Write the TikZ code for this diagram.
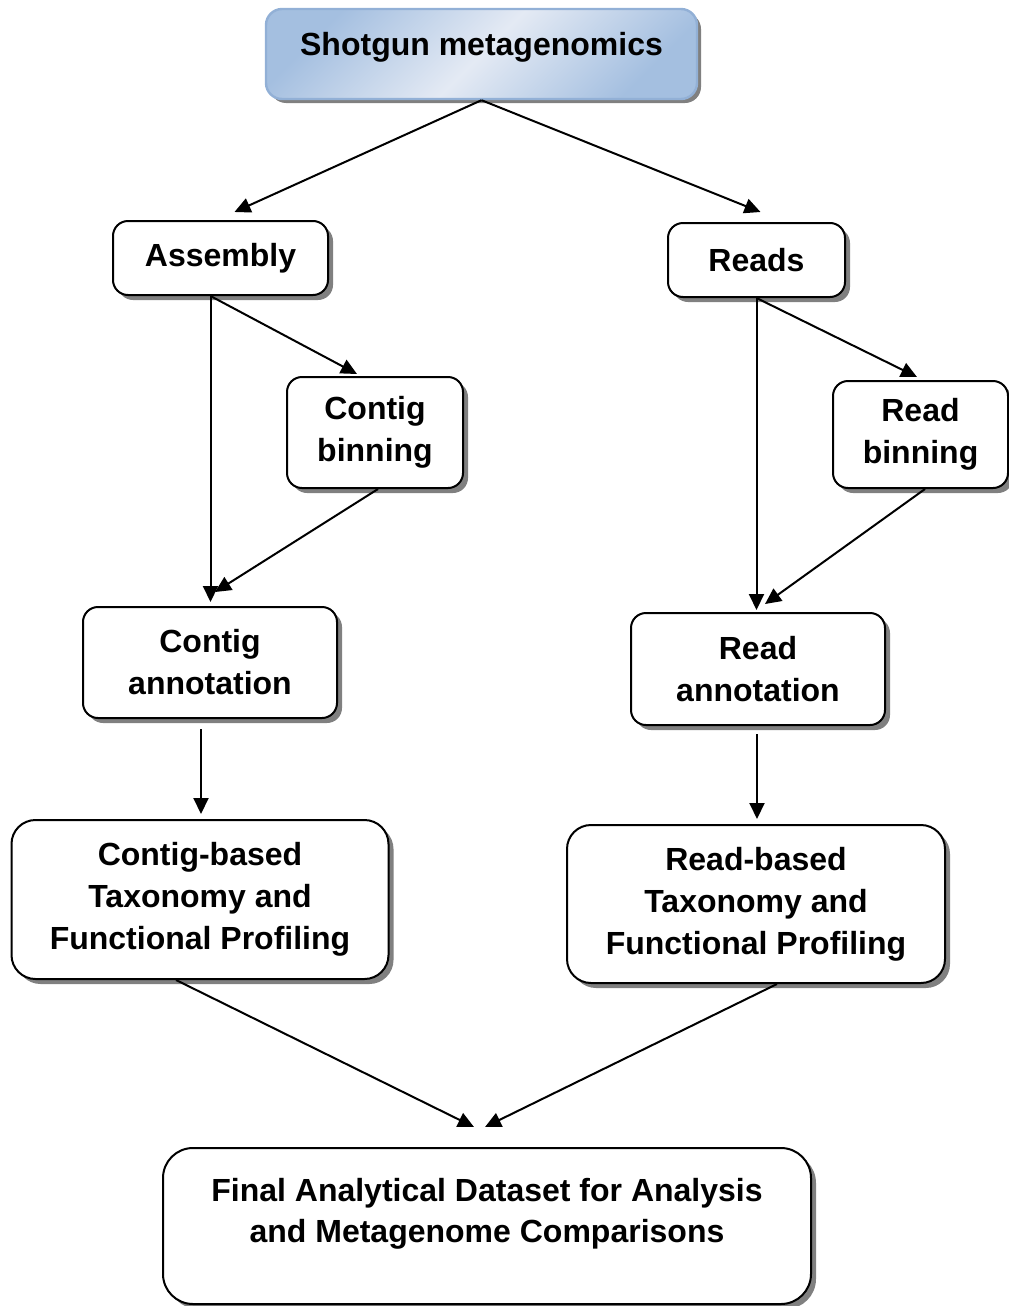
\documentclass[tikz,border=0pt]{standalone}
\usepackage{fontspec}
\setmainfont{Liberation Sans}
\usetikzlibrary{arrows.meta,shadows}
\definecolor{headEdge}{RGB}{146,176,214}
\definecolor{headDark}{RGB}{164,191,224}
\definecolor{headLight}{RGB}{228,234,244}
\definecolor{stageShadow}{RGB}{128,128,128}

\begin{document}
\begin{tikzpicture}[x=0.5pt,y=-0.5pt,
  stage/.style={draw=black,line width=1pt,fill=white,rounded corners=7.5pt,
    align=center,inner sep=0pt,font=\fontsize{16}{21}\selectfont\bfseries,
    drop shadow={shadow xshift=2.5pt,shadow yshift=-2.5pt,fill=stageShadow,opacity=1}},
  head/.style={draw=headEdge,line width=1.2pt,rounded corners=8pt,inner sep=0pt,
    top color=headDark,bottom color=headDark,middle color=headLight,shading angle=45,
    font=\fontsize{16}{21}\selectfont\bfseries,
    drop shadow={shadow xshift=2pt,shadow yshift=-2pt,fill=stageShadow,opacity=1}},
  flow/.style={line width=1pt,-{Triangle[length=8pt,width=7.5pt]}}]
  \useasboundingbox (0,0) rectangle (1008,1306);

  % boxes
  \node[head,minimum width=215.5pt,minimum height=45pt,text depth=9.6pt] (shot) at (481.5,54) {Shotgun metagenomics};
  \node[stage,minimum width=107.5pt,minimum height=37pt] (asm) at (220.5,258) {Assembly};
  \node[stage,minimum width=88.5pt,minimum height=37pt] (reads) at (756.5,260) {Reads};
  \node[stage,minimum width=88pt,minimum height=55.5pt] (cbin) at (375,432.5) {Contig\\binning};
  \node[stage,minimum width=87.5pt,minimum height=53.5pt] (rbin) at (920.5,434.5) {Read\\binning};
  \node[stage,minimum width=127pt,minimum height=55.5pt] (cann) at (210,662.5) {Contig\\annotation};
  \node[stage,minimum width=127pt,minimum height=56pt] (rann) at (758,669) {Read\\annotation};
  \node[stage,rounded corners=12pt,minimum width=188.5pt,minimum height=79.5pt] (cprof) at (200,899.5)
    {Contig-based\\Taxonomy and\\Functional Profiling};
  \node[stage,rounded corners=12pt,minimum width=189pt,minimum height=79pt] (rprof) at (756,904)
    {Read-based\\Taxonomy and\\Functional Profiling};
  \node[stage,rounded corners=15pt,minimum width=324pt,minimum height=78pt,
    font=\fontsize{16}{20.5}\selectfont\bfseries] (final) at (487,1226)
    {Final Analytical Dataset for Analysis\\and Metagenome Comparisons\\[-5pt]\mbox{}};

  % contig side
  \draw[flow] (shot.south) -- ([xshift=7pt,yshift=4pt]asm.north);
  \draw[flow] ([xshift=-5pt]asm.south) -- ([xshift=-9pt,yshift=1pt]cbin.north);
  \draw[flow] ([xshift=-5pt]asm.south) -- ([xshift=0.25pt,yshift=2pt]cann.north);
  \draw[flow] ([xshift=1.5pt]cbin.south) -- ([xshift=2.5pt,yshift=7pt]cann.north);
  \draw[flow] ([xshift=-4.5pt,yshift=-5pt]cann.south) -- ([xshift=0.5pt,yshift=2.5pt]cprof.north);
  \draw[flow] ([xshift=-12pt]cprof.south) -- ([xshift=-6.5pt,yshift=10pt]final.north);

  % read side
  \draw[flow] (shot.south) -- ([xshift=2pt,yshift=5pt]reads.north);
  \draw[flow] (reads.south) -- ([xshift=-1.75pt,yshift=1.5pt]rbin.north);
  \draw[flow] (reads.south) -- ([xshift=-0.75pt,yshift=1pt]rann.north);
  \draw[flow] ([xshift=2.25pt]rbin.south) -- ([xshift=3.5pt,yshift=4pt]rann.north);
  \draw[flow] ([xshift=-0.5pt,yshift=-4pt]rann.south) -- ([xshift=0.5pt,yshift=2.5pt]rprof.north);
  \draw[flow] ([xshift=10.5pt]rprof.south) -- ([xshift=-1pt,yshift=10pt]final.north);
\end{tikzpicture}
\end{document}
